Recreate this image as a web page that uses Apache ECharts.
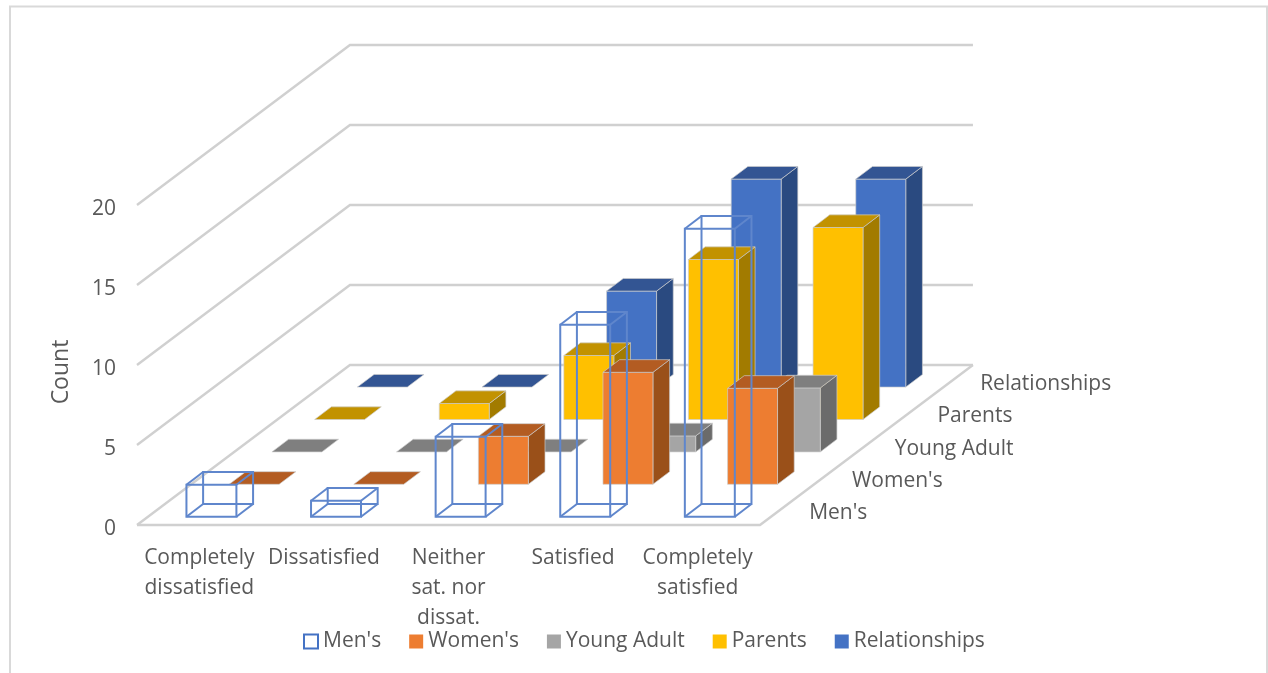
<!DOCTYPE html>
<html>
<head>
<meta charset="utf-8">
<style>html,body{margin:0;padding:0;background:#fff}#chart{width:1268px;height:673px}</style>
<script src="https://cdn.jsdelivr.net/npm/echarts@6/dist/echarts.min.js"></script>
</head>
<body>
<div id="chart"></div>
<script>
// Survey counts by satisfaction level, one row of columns per group
const categories = ['Completely\ndissatisfied', 'Dissatisfied', 'Neither\nsat. nor\ndissat.', 'Satisfied', 'Completely\nsatisfied'];
const groups = ["Men's", "Women's", 'Young Adult', 'Parents', 'Relationships'];
const mens = [2, 1, 5, 12, 18];
const womens = [0, 0, 3, 7, 6];
const youngAdult = [0, 0, 0, 1, 4];
const parents = [0, 1, 4, 10, 12];
const relationships = [0, 0, 6, 13, 13];
const levels = [0, 5, 10, 15, 20];

const TEXT = '#595959';
const FONT = '"Open Sans"';
const FONT_SIZE = 21;

// Oblique projection: one row of depth moves a point right along x and up along y, in axis units
const ROW_X = 0.343, ROW_Y = 2.025;
const ROW_START = 0.256, BAR_DEPTH = 0.39;
const BAR_INSET = 0.309, BAR_WIDTH = 0.401;
const FLOOR_X = 1.709, FLOOR_Y = 10;

const palette = [
  { front: '#ffffff', top: '#ffffff', side: '#ffffff', line: '#5f86cc' },
  { front: '#ed7d31', top: '#b35c22', side: '#9a5019' },
  { front: '#a5a5a5', top: '#7f7f7f', side: '#6b6b6b' },
  { front: '#ffc000', top: '#c29200', side: '#a27b00' },
  { front: '#4472c4', top: '#335593', side: '#2a4a80' }
];

function project(api, x, y, depth) {
  return api.coord([x + depth * ROW_X, y + depth * ROW_Y]);
}

function face(points, fill, stroke, width) {
  return { type: 'polygon', shape: { points }, style: { fill, stroke, lineWidth: width } };
}

function barRenderer(row) {
  return function (params, api) {
    const cat = api.value(0), v = api.value(1);
    const x0 = cat + BAR_INSET, x1 = x0 + BAR_WIDTH;
    const d0 = row + ROW_START, d1 = d0 + BAR_DEPTH;
    const P = (x, y, d) => project(api, x, y, d);
    const c = palette[row];
    if (c.line) {
      // Wireframe column: every edge stays visible and nothing is filled
      const w = 2, s = c.line;
      const edge = (a, b) => ({ type: 'line', shape: { x1: a[0], y1: a[1], x2: b[0], y2: b[1] }, style: { stroke: s, lineWidth: w, fill: null } });
      return { type: 'group', children: [
        face([P(x0, 0, d1), P(x1, 0, d1), P(x1, v, d1), P(x0, v, d1)], 'none', s, w),
        edge(P(x0, 0, d0), P(x0, 0, d1)),
        edge(P(x1, 0, d0), P(x1, 0, d1)),
        edge(P(x0, v, d0), P(x0, v, d1)),
        edge(P(x1, v, d0), P(x1, v, d1)),
        face([P(x0, 0, d0), P(x1, 0, d0), P(x1, v, d0), P(x0, v, d0)], 'none', s, w)
      ] };
    }
    const halo = 'rgba(205,205,205,0.85)';
    const children = [];
    if (v > 0) {
      children.push(face([P(x1, 0, d0), P(x1, 0, d1), P(x1, v, d1), P(x1, v, d0)], c.side, halo, 0.8));
      children.push(face([P(x0, 0, d0), P(x1, 0, d0), P(x1, v, d0), P(x0, v, d0)], c.front, halo, 0.8));
    }
    children.push(face([P(x0, v, d0), P(x1, v, d0), P(x1, v, d1), P(x0, v, d1)], c.top, halo, 0.8));
    return { type: 'group', children };
  };
}

// Back wall and side wall gridlines, plus the outline of the floor
function renderWalls(params, api) {
  const level = api.value(0);
  const line = '#d0d0d0';
  const a = api.coord([0, level]);
  const b = api.coord([FLOOR_X, level + FLOOR_Y]);
  const c = api.coord([5 + FLOOR_X, level + FLOOR_Y]);
  const children = [{ type: 'polyline', shape: { points: [a, b, c] }, style: { stroke: line, lineWidth: 2.4, fill: null } }];
  if (level === 0) {
    const f = api.coord([5, 0]);
    children.push({ type: 'polyline', shape: { points: [a, f, c] }, style: { stroke: line, lineWidth: 2.4, fill: null } });
  }
  return { type: 'group', children };
}

// Row names along the right edge of the floor
function renderRowName(params, api) {
  const row = api.value(0);
  const p = project(api, 5.24, 0, row + ROW_START + BAR_DEPTH / 2);
  return {
    type: 'text',
    x: p[0], y: p[1] + 3,
    style: { text: groups[row], fill: TEXT, font: FONT_SIZE + 'px ' + FONT, align: 'left', verticalAlign: 'middle' }
  };
}

const rows = [mens, womens, youngAdult, parents, relationships];
const barSeries = rows.map((values, row) => ({
  type: 'custom',
  name: groups[row],
  xAxisIndex: 1,
  yAxisIndex: 0,
  z: 10 - row,
  silent: true,
  itemStyle: { color: palette[row].line ? '#ffffff' : palette[row].front },
  encode: { x: 0, y: 1 },
  renderItem: barRenderer(row),
  data: values.map((v, i) => [i, v])
})).reverse();

const chart = echarts.init(document.getElementById('chart'), null, { renderer: 'canvas' });
chart.setOption({
  animation: false,
  backgroundColor: '#ffffff',
  textStyle: { fontFamily: FONT },
  graphic: [{
    type: 'rect', z: -10, silent: true,
    shape: { x: 10, y: 6.5, width: 1257, height: 720 },
    style: { fill: '#ffffff', stroke: '#d9d9d9', lineWidth: 2 }
  }],
  grid: { left: 137, top: 205, width: 623, height: 320, containLabel: false },
  legend: {
    top: 626,
    left: 298,
    itemWidth: 14,
    itemHeight: 14,
    itemGap: 28,
    selectedMode: false,
    textStyle: { color: TEXT, fontSize: FONT_SIZE, fontFamily: FONT },
    data: groups.map((name, row) => palette[row].line
      ? { name, icon: 'rect', itemStyle: { color: '#ffffff', borderColor: '#4472c4', borderWidth: 2 } }
      : { name, icon: 'rect', itemStyle: { color: palette[row].front, borderWidth: 0 } })
  },
  xAxis: [
    {
      type: 'category',
      data: categories,
      boundaryGap: true,
      axisLine: { show: false },
      axisTick: { show: false },
      splitLine: { show: false },
      axisLabel: { interval: 0, margin: 18, color: TEXT, fontSize: FONT_SIZE, fontFamily: FONT, lineHeight: 30 }
    },
    { type: 'value', min: 0, max: 5, show: false, splitLine: { show: false } }
  ],
  yAxis: [{
    type: 'value',
    min: 0,
    max: 20,
    interval: 5,
    name: 'Count',
    nameLocation: 'middle',
    nameGap: 64,
    nameTextStyle: { color: TEXT, fontSize: 23, fontFamily: FONT, padding: [0, 14, 0, 0] },
    axisLine: { show: false },
    axisTick: { show: false },
    splitLine: { show: false },
    axisLabel: { margin: 21, color: TEXT, fontSize: FONT_SIZE, fontFamily: FONT, verticalAlign: 'top', lineHeight: 8 }
  }],
  series: [
    {
      type: 'custom',
      name: 'walls',
      xAxisIndex: 1,
      yAxisIndex: 0,
      z: 1,
      silent: true,
      encode: { x: 1, y: 0 },
      renderItem: renderWalls,
      data: levels.map(level => [level, 0])
    },
    {
      type: 'custom',
      name: 'row names',
      xAxisIndex: 1,
      yAxisIndex: 0,
      z: 2,
      silent: true,
      encode: { x: 1, y: 2 },
      renderItem: renderRowName,
      data: groups.map((g, row) => [row, 0, 0])
    }
  ].concat(barSeries)
});
</script>
</body>
</html>
